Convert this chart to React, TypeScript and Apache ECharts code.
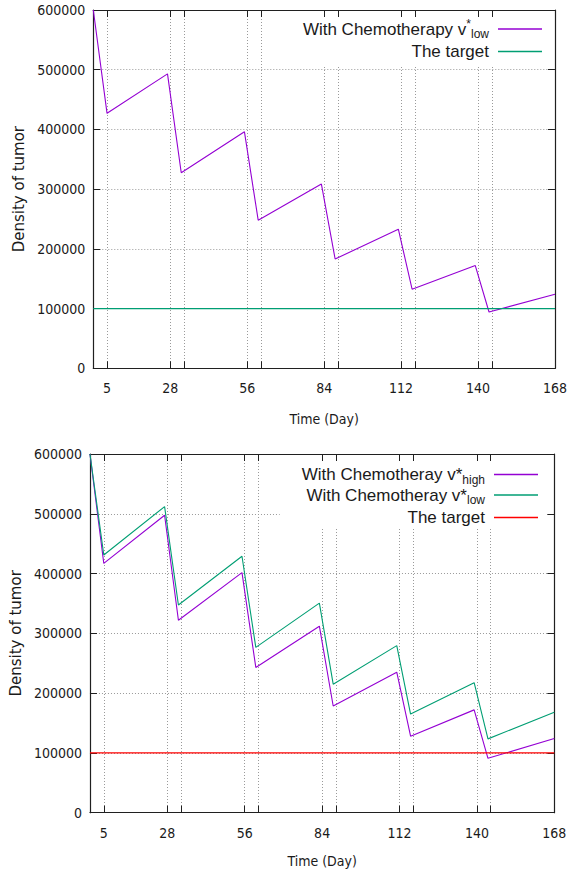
import React, { useEffect, useRef } from "react";
import * as echarts from "echarts";

// ---------- data ----------
const days = [0, 5, 27, 32, 55, 60, 83, 88, 111, 116, 139, 144, 168];
const topLow = [600000, 427000, 493000, 327500, 396000, 248000, 308500, 183000, 233000, 132500, 172000, 94300, 124000];
const bottomHigh = [600000, 417000, 497500, 322000, 401500, 243000, 312000, 178500, 235000, 128000, 172000, 91000, 124000];
const bottomLow = [600000, 431000, 512000, 347500, 429000, 276500, 350500, 215000, 279500, 165000, 217500, 123500, 168000];
const targetDays = [0, 168];
const targetValues = [100000, 100000];
const tickDays = [0, 5, 28, 33, 56, 61, 84, 89, 112, 117, 140, 145, 168];
const labelDays = [5, 28, 56, 84, 112, 140, 168];

const TICK_FONT = '"Liberation Sans Narrow", "DejaVu Sans Condensed", "Liberation Sans", sans-serif';
const LEGEND_FONT = '"Liberation Sans", "DejaVu Sans", sans-serif';
const YNAME_FONT = '"DejaVu Sans", sans-serif';
const INK = "#1a1a1a";
const BORDER = "#202020";
const GRID = "#9a9a9a";

const pairs = (xs: number[], ys: number[]) => xs.map((x, i) => [x, ys[i]]);

type SeriesDef = { name: string; label: string; color: string; xs: number[]; ys: number[] };

interface PanelCfg {
  grid: { left: number; right: number; top: number; bottom: number };
  series: SeriesDef[];
  xNameGap: number;
  yNameGap: number;
  legend: { right: number; top: number; padding: number[]; itemGap: number };
}

function buildOption(cfg: PanelCfg): any {
  const labelMap: Record<string, string> = {};
  cfg.series.forEach((s) => (labelMap[s.name] = s.label));
  const commonX = { type: "value", min: 0, max: 168 };
  const commonY = { type: "value", min: 0, max: 600000, interval: 100000 };
  return {
    animation: false,
    grid: { ...cfg.grid, containLabel: false },
    legend: {
      orient: "vertical",
      align: "right",
      right: cfg.legend.right,
      top: cfg.legend.top,
      padding: cfg.legend.padding,
      itemGap: cfg.legend.itemGap,
      itemWidth: 44,
      itemHeight: 1.3,
      icon: "rect",
      backgroundColor: "#ffffff",
      data: cfg.series.map((s) => s.name),
      formatter: (name: string) => labelMap[name] || name,
      textStyle: {
        fontFamily: LEGEND_FONT,
        fontSize: 17,
        color: INK,
        padding: [0, 4, 0, 0],
        rich: {
          m: { fontFamily: LEGEND_FONT, fontSize: 17, lineHeight: 22, color: INK },
          t: { fontFamily: LEGEND_FONT, fontSize: 17, lineHeight: 22, padding: [2, 0, 2, 0], color: INK },
          sub: { fontFamily: LEGEND_FONT, fontSize: 12, lineHeight: 12, verticalAlign: "bottom", color: INK },
          sup: { fontFamily: LEGEND_FONT, fontSize: 12, lineHeight: 12, verticalAlign: "top", color: INK },
        },
      },
    },
    xAxis: [
      {
        ...commonX,
        position: "bottom",
        name: "Time (Day)",
        nameLocation: "middle",
        nameGap: cfg.xNameGap,
        nameTextStyle: { fontFamily: TICK_FONT, fontSize: 14, color: INK },
        axisLine: { show: true, onZero: false, lineStyle: { color: BORDER, width: 1.2 } },
        axisTick: { show: true, inside: true, length: 7, customValues: tickDays, lineStyle: { color: BORDER } },
        axisLabel: {
          show: true,
          customValues: labelDays,
          margin: 13,
          fontFamily: TICK_FONT,
          fontSize: 14,
          color: INK,
          formatter: (v: number) => String(v),
        },
        splitLine: { show: true, lineStyle: { color: GRID, type: [1, 2], width: 1 } },
      },
      {
        ...commonX,
        position: "top",
        axisLine: { show: true, onZero: false, lineStyle: { color: BORDER, width: 1.2 } },
        axisTick: { show: true, inside: true, length: 7, customValues: tickDays, lineStyle: { color: BORDER } },
        axisLabel: { show: false },
        splitLine: { show: false },
      },
    ],
    yAxis: [
      {
        ...commonY,
        position: "left",
        name: "Density of tumor",
        nameLocation: "middle",
        nameGap: cfg.yNameGap,
        nameTextStyle: { fontFamily: YNAME_FONT, fontSize: 15, color: INK },
        axisLine: { show: true, onZero: false, lineStyle: { color: BORDER, width: 1.2 } },
        axisTick: { show: true, inside: true, length: 7, lineStyle: { color: BORDER } },
        axisLabel: {
          margin: 8,
          fontFamily: TICK_FONT,
          fontSize: 14,
          color: INK,
          formatter: (v: number) => String(v),
        },
        splitLine: { show: true, lineStyle: { color: GRID, type: [1, 2], width: 1 } },
      },
      {
        ...commonY,
        position: "right",
        axisLine: { show: true, onZero: false, lineStyle: { color: BORDER, width: 1.2 } },
        axisTick: { show: true, inside: true, length: 7, lineStyle: { color: BORDER } },
        axisLabel: { show: false },
        splitLine: { show: false },
      },
    ],
    series: cfg.series.map((s) => ({
      type: "line",
      name: s.name,
      xAxisIndex: 0,
      yAxisIndex: 0,
      data: pairs(s.xs, s.ys),
      showSymbol: false,
      symbol: "none",
      silent: true,
      lineStyle: { color: s.color, width: 1.1 },
      itemStyle: { color: s.color },
    })),
  };
}

const topCfg: PanelCfg = {
  grid: { left: 93.3, right: 12.5, top: 10, bottom: 69.7 },
  xNameGap: 44,
  yNameGap: 61,
  legend: { right: 20, top: 17, padding: [1, 8, 3, 22], itemGap: 1 },
  series: [
    {
      name: "With Chemotherapy v*low",
      label: "{m|With Chemotherapy v}{sup|*}{sub|low}",
      color: "#9400d3",
      xs: days,
      ys: topLow,
    },
    { name: "The target", label: "{t|The target}", color: "#009e73", xs: targetDays, ys: targetValues },
  ],
};

const bottomCfg: PanelCfg = {
  grid: { left: 89.3, right: 15.7, top: 16, bottom: 63.3 },
  xNameGap: 41,
  yNameGap: 64,
  legend: { right: 23, top: 23, padding: [5, 9, 1, 22], itemGap: 1 },
  series: [
    {
      name: "With Chemotheray v*high",
      label: "{m|With Chemotheray v*}{sub|high}",
      color: "#9400d3",
      xs: days,
      ys: bottomHigh,
    },
    {
      name: "With Chemotheray v*low",
      label: "{m|With Chemotheray v*}{sub|low}",
      color: "#009e73",
      xs: days,
      ys: bottomLow,
    },
    { name: "The target", label: "{t|The target}", color: "#ff0000", xs: targetDays, ys: targetValues },
  ],
};

function Panel({ cfg }: { cfg: PanelCfg }) {
  const ref = useRef<HTMLDivElement>(null);
  useEffect(() => {
    if (!ref.current) return;
    const chart = echarts.init(ref.current, undefined, { renderer: "svg" });
    chart.setOption(buildOption(cfg));
    return () => chart.dispose();
  }, [cfg]);
  return <div ref={ref} style={{ width: 570, height: 438 }} />;
}

export default function App() {
  return (
    <div style={{ position: "absolute", left: 0, top: 0, width: 570, height: 876, background: "#fff" }}>
      <Panel cfg={topCfg} />
      <Panel cfg={bottomCfg} />
    </div>
  );
}
